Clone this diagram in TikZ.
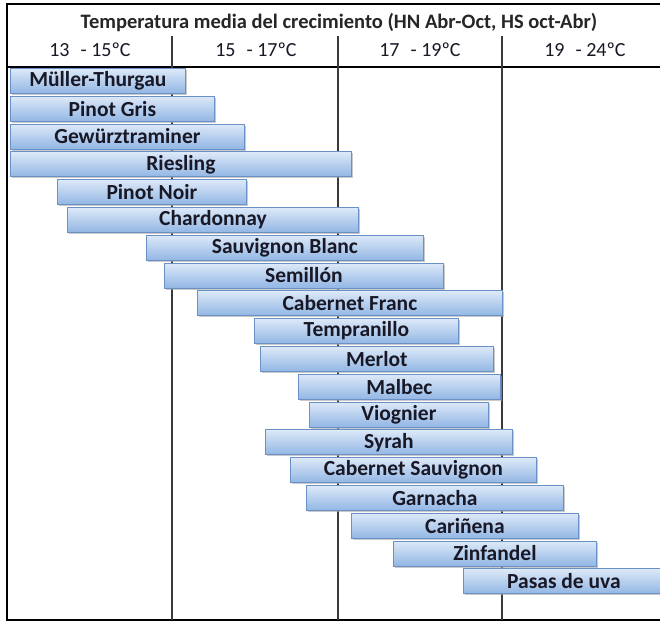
\documentclass[tikz,border=0pt]{standalone}
\usepackage{fontspec}
\setmainfont{Carlito}
\usetikzlibrary{shadows}
\definecolor{barTop}{HTML}{DDE9F8}
\definecolor{barBot}{HTML}{92B6E4}
\definecolor{barEdge}{HTML}{6A91C5}
\definecolor{txt}{HTML}{181826}
\definecolor{gridc}{HTML}{3A3A3A}
\newcommand{\winebar}[5]{%
  \pgfmathsetmacro{\bw}{#3-#2}%
  \pgfmathsetmacro{\by}{68+27.8*#4}%
  \node[barbox, minimum width=\bw pt] (#1) at (#2,\by) {#5};}
\begin{document}
\begin{tikzpicture}[x=1pt,y=-1pt,
  barbox/.style={draw=barEdge, line width=0.8pt, top color=barTop, bottom color=barBot,
    minimum height=25pt, inner sep=0pt, anchor=north west, text=txt,
    font=\fontsize{21.5}{21.5}\selectfont\bfseries,
    drop shadow={shadow xshift=1.2pt, shadow yshift=-1.5pt, fill=black!35, opacity=0.6}},
  hdr/.style={font=\fontsize{20}{20}\selectfont, text=txt, inner sep=0pt},
  grid/.style={draw=gridc, line width=1.6pt}]
\useasboundingbox (0,0) rectangle (660,622);
\fill[white] (0,0) rectangle (660,622);
% frame
\draw[line width=2.6pt, black] (663,4) -- (7,4) -- (7,620) -- (663,620);
\draw[line width=2.6pt, black] (7,67) -- (663,67);
% header
\node[hdr, font=\fontsize{20.5}{20.5}\selectfont\bfseries, text=black!85] (title) at (339,22) {Temperatura media del crecimiento (HN Abr-Oct, HS oct-Abr)};
\node[hdr] (c1) at (90,50) {13\hspace{0.55em}- 15ºC};
\node[hdr] (c2) at (256,50) {15\hspace{0.55em}- 17ºC};
\node[hdr] (c3) at (420,50) {17\hspace{0.55em}- 19ºC};
\node[hdr] (c4) at (585,50) {19\hspace{0.55em}- 24ºC};
\foreach \xx in {172,338,502} { \draw[grid] (\xx,36) -- (\xx,620); }
% bars
\winebar{b1}{10}{185}{0}{Müller-Thurgau}
\winebar{b2}{10}{214}{1}{Pinot Gris}
\winebar{b3}{10}{244}{2}{Gewürztraminer}
\winebar{b4}{10}{351}{3}{Riesling}
\winebar{b5}{57}{246}{4}{Pinot Noir}
\winebar{b6}{67}{358}{5}{Chardonnay}
\winebar{b7}{146}{423}{6}{Sauvignon Blanc}
\winebar{b8}{164}{443}{7}{Semillón}
\winebar{b9}{197}{502}{8}{Cabernet Franc}
\winebar{b10}{254}{458}{9}{Tempranillo}
\winebar{b11}{260}{493}{10}{Merlot}
\winebar{b12}{298}{500}{11}{Malbec}
\winebar{b13}{309}{488}{12}{Viognier}
\winebar{b14}{265}{512}{13}{Syrah}
\winebar{b15}{290}{536}{14}{Cabernet Sauvignon}
\winebar{b16}{306}{563}{15}{Garnacha}
\winebar{b17}{351}{578}{16}{Cariñena}
\winebar{b18}{393}{596}{17}{Zinfandel}
\winebar{b19}{463}{670}{18}{\hspace*{-6pt}Pasas de uva}
\end{tikzpicture}
\end{document}
